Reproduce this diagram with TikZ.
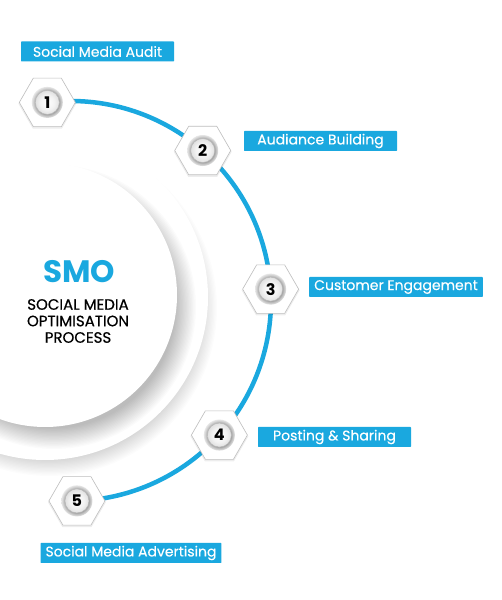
\documentclass[tikz,border=0pt]{standalone}
\usepackage{fontspec}
\setmainfont{Poppins}
\newfontfamily\medfont[FakeBold=0.6]{Poppins}
\newfontfamily\tagfont[FakeBold=0.3]{Poppins}
\usetikzlibrary{shapes.geometric}
\definecolor{smoblue}{HTML}{1AA8DF}
\pgfdeclareradialshading{ringshade}{\pgfpoint{0bp}{0bp}}{color(0bp)=(black!12); color(18bp)=(black!40); color(22bp)=(black!22); color(25bp)=(black!10); color(50bp)=(black!10)}
\pgfdeclareradialshading{coreshade}{\pgfpoint{0bp}{0bp}}{color(0bp)=(white); color(15bp)=(black!5); color(25bp)=(black!12); color(50bp)=(black!12)}
\pgfdeclarelayer{bg}
\pgfsetlayers{bg,main}
\begin{document}
\begin{tikzpicture}[x=1pt,y=1pt,
  disk/.style={circle, inner sep=0, fill=white},
  softshade/.style={fill=black, fill opacity=#1},
  hexnode/.style={regular polygon, regular polygon sides=6, minimum size=56, inner sep=0, outer sep=0,
    fill=white, draw=black!25, line width=0.6pt},
  hexshadow/.style={regular polygon, regular polygon sides=6, minimum size=58, inner sep=0, fill=black, fill opacity=0.07},
  ringnode/.style={circle, minimum size=31, inner sep=0, shading=ringshade},
  numnode/.style={circle, minimum size=24, inner sep=0, shading=coreshade, draw=black!28, line width=0.5pt,
    font=\fontsize{16}{16}\selectfont\bfseries, text=black},
  tag/.style={rectangle, fill=smoblue, text=white, minimum height=20, minimum width=153, inner xsep=5,
    inner ysep=0, rounded corners=0.6pt, font=\fontsize{14}{14}\selectfont\tagfont},
  arcline/.style={draw=smoblue, line width=4.5pt}
]
\useasboundingbox (0,0) rectangle (501,600);

\begin{pgfonlayer}{bg}
  \clip (0,0) rectangle (501,600);
  \fill[white] (0,0) rectangle (501,600);
  % soft shadow of the outer disk
  \foreach \k in {0,...,14} {
    \fill[softshade=0.011] (49,292) circle[radius=168-1.3*\k];
  }
  \node[disk, minimum size=326] (outerdisk) at (45,303) {};
  % soft shadow of the inner disk
  \foreach \k in {0,...,16} {
    \fill[softshade=0.016] (54,293) circle[radius=142-1.3*\k];
  }
  \node[disk, minimum size=264] (innerdisk) at (45,305) {};
\end{pgfonlayer}

\coordinate (O) at (71,299);

\path (O) ++(96.8:200) node[hexnode] (h1) {};
\path (O) ++(48.8:200) node[hexnode] (h2) {};
\path (O) ++(3.4:200) node[hexnode] (h3) {};
\path (O) ++(-42.1:200) node[hexnode] (h4) {};
\path (O) ++(-88.3:200) node[hexnode] (h5) {};

\begin{pgfonlayer}{bg}
  \draw[arcline] (h1.center) arc[start angle=96.8, end angle=48.8, radius=200];
  \draw[arcline] (h2.center) arc[start angle=48.8, end angle=3.4, radius=200];
  \draw[arcline] (h3.center) arc[start angle=3.4, end angle=-42.1, radius=200];
  \draw[arcline] (h4.center) arc[start angle=-42.1, end angle=-88.3, radius=200];
  \foreach \i in {1,...,5} {
    \node[hexshadow] (s\i) at ([yshift=-1.2pt]h\i.center) {};
  }
\end{pgfonlayer}

\foreach \i in {1,...,5} {
  \node[ringnode] (r\i) at (h\i) {};
  \node[numnode] (n\i) at (h\i) {\i};
}

\node[tag] (l1) at (97.5,548.5) {Social Media Audit};
\node[tag] (l2) at (320.5,459) {Audiance Building};
\node[tag] (l3) at (396,313) {Customer Engagement};
\node[tag] (l4) at (334.5,163) {Posting \& Sharing};
\node[tag] (l5) at (131,47) {Social Media Advertising};

\node[font=\fontsize{31}{31}\selectfont\bfseries, text=smoblue] (smo) at (79,328) {SMO};
\node[font=\fontsize{15}{16.5}\selectfont\medfont, align=center, text=black] (sub) at (78,279)
  {SOCIAL MEDIA\\OPTIMISATION\\PROCESS};
\end{tikzpicture}
\end{document}
